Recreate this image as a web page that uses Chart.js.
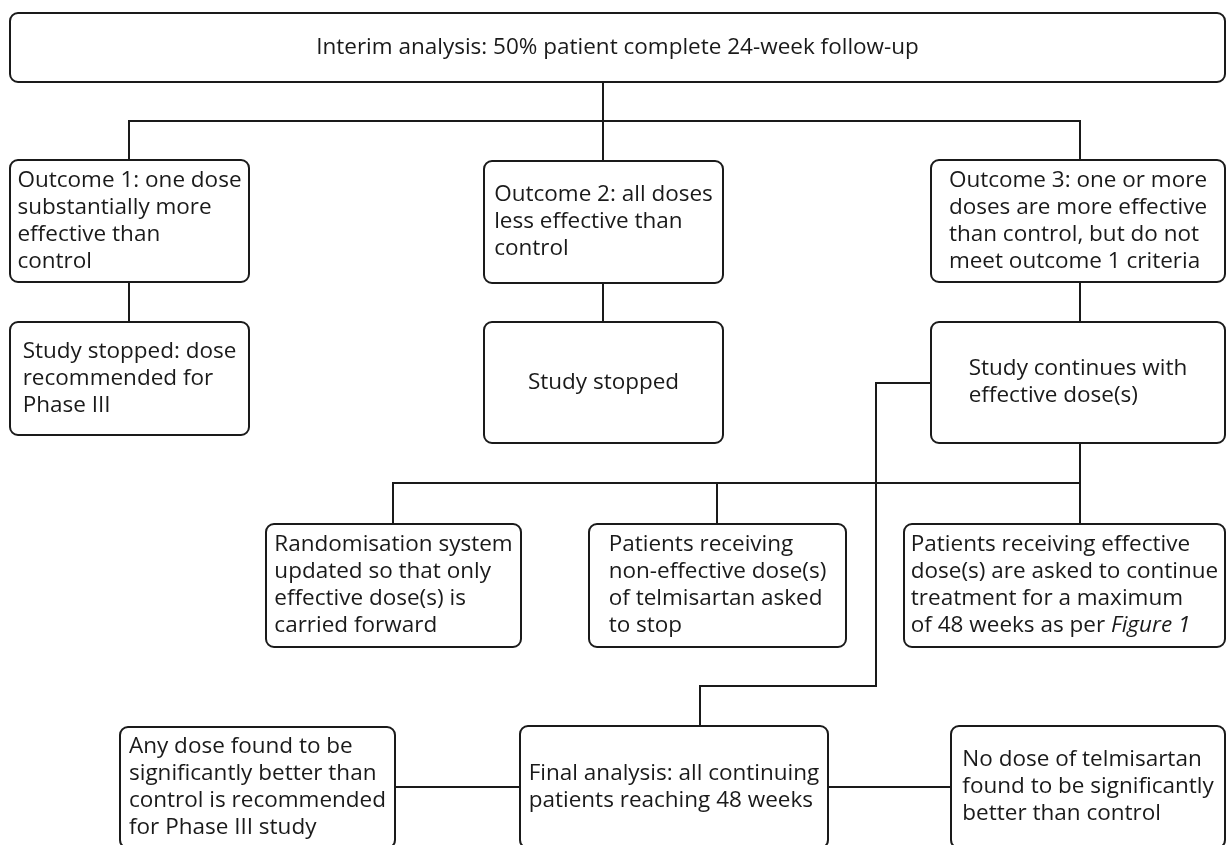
<!DOCTYPE html>
<html>
<head>
<meta charset="utf-8">
<script src="https://cdn.jsdelivr.net/npm/chart.js@4.4.0/dist/chart.umd.min.js"></script>
<style>
  html, body { margin: 0; padding: 0; background: #ffffff; }
  #wrap { width: 1227px; height: 845px; }
</style>
</head>
<body>
<div id="wrap"><canvas id="c" width="1227" height="845"></canvas></div>
<script>
// ---- Flowchart nodes (text; lines separated by \n, *...* = italic) ----
const nodeText = [
  "Interim analysis: 50% patient complete 24-week follow-up",
  "Outcome 1: one dose\nsubstantially more\neffective than\ncontrol",
  "Outcome 2: all doses\nless effective than\ncontrol",
  "Outcome 3: one or more\ndoses are more effective\nthan control, but do not\nmeet outcome 1 criteria",
  "Study stopped: dose\nrecommended for\nPhase III",
  "Study stopped",
  "Study continues with\neffective dose(s)",
  "Randomisation system\nupdated so that only\neffective dose(s) is\ncarried forward",
  "Patients receiving\nnon-effective dose(s)\nof telmisartan asked\nto stop",
  "Patients receiving effective\ndose(s) are asked to continue\ntreatment for a maximum\nof 48 weeks as per *Figure 1*",
  "Any dose found to be\nsignificantly better than\ncontrol is recommended\nfor Phase III study",
  "Final analysis: all continuing\npatients reaching 48 weeks",
  "No dose of telmisartan\nfound to be significantly\nbetter than control"
];
// node extents in diagram units
const nodeLeft   = [10,   10,  484,  931,  10,  484,  931, 266, 589,  904, 120, 520,  951];
const nodeTop    = [13,  160,  161,  160, 322,  322,  322, 524, 524,  524, 727, 726,  726];
const nodeRight  = [1225, 249, 723, 1225, 249,  723, 1225, 521, 846, 1225, 395, 828, 1225];
const nodeBottom = [82,  282,  283,  282, 435,  443,  443, 647, 647,  647, 848, 848,  848];

// ---- Connectors (polylines in diagram units) ----
const connectors = [
  [[603, 82], [603, 161]],
  [[129, 160], [129, 121], [1080, 121], [1080, 160]],
  [[129, 282], [129, 322]],
  [[603, 283], [603, 322]],
  [[1080, 282], [1080, 322]],
  [[1080, 443], [1080, 524]],
  [[393, 524], [393, 483], [1080, 483]],
  [[717, 483], [717, 524]],
  [[931, 383], [876, 383], [876, 686], [700, 686], [700, 726]],
  [[395, 787], [520, 787]],
  [[828, 787], [951, 787]]
];

const INK = '#1a1a1a';
const FONT_FAMILY = '"Open Sans", "Noto Sans", sans-serif';
const FONT_SIZE = 22.5;
const LINE_H = 27;

const datasets = connectors.map(pts => ({
  type: 'line',
  data: pts.map(p => ({ x: p[0], y: p[1] })),
  borderColor: INK,
  borderWidth: 2,
  pointRadius: 0,
  fill: false,
  tension: 0,
  clip: false
}));

function parseSegments(line) {
  const parts = line.split('*');
  return parts.map((t, i) => ({ text: t, italic: i % 2 === 1 })).filter(s => s.text.length);
}

const boxPlugin = {
  id: 'flowBoxes',
  afterDatasetsDraw(chart) {
    const ctx = chart.ctx;
    const xs = chart.scales.x, ys = chart.scales.y;
    ctx.save();
    for (let i = 0; i < nodeText.length; i++) {
      const x0 = xs.getPixelForValue(nodeLeft[i]);
      const x1 = xs.getPixelForValue(nodeRight[i]);
      const y0 = ys.getPixelForValue(nodeTop[i]);
      const y1 = ys.getPixelForValue(nodeBottom[i]);
      ctx.beginPath();
      ctx.roundRect(x0, y0, x1 - x0, y1 - y0, 8);
      ctx.fillStyle = '#ffffff';
      ctx.fill();
      ctx.lineWidth = 2;
      ctx.strokeStyle = INK;
      ctx.stroke();

      const lines = nodeText[i].split('\n').map(parseSegments);
      const widths = lines.map(segs => segs.reduce((w, s) => {
        ctx.font = (s.italic ? 'italic ' : '') + FONT_SIZE + 'px ' + FONT_FAMILY;
        return w + ctx.measureText(s.text).width;
      }, 0));
      const maxW = Math.max(...widths);
      const cx = (x0 + x1) / 2, cy = (y0 + y1) / 2;
      const left = cx - maxW / 2;
      const startY = cy - (lines.length - 1) * LINE_H / 2;
      ctx.fillStyle = INK;
      ctx.textBaseline = 'middle';
      ctx.textAlign = 'left';
      lines.forEach((segs, li) => {
        let x = left;
        segs.forEach(s => {
          ctx.font = (s.italic ? 'italic ' : '') + FONT_SIZE + 'px ' + FONT_FAMILY;
          ctx.fillText(s.text, x, startY + li * LINE_H);
          x += ctx.measureText(s.text).width;
        });
      });
    }
    ctx.restore();
  }
};

new Chart(document.getElementById('c'), {
  type: 'scatter',
  data: { datasets },
  options: {
    responsive: false,
    animation: false,
    events: [],
    layout: { padding: 0 },
    plugins: { legend: { display: false }, tooltip: { enabled: false } },
    scales: {
      x: { type: 'linear', min: 0, max: 1227, display: false },
      y: { type: 'linear', min: 0, max: 845, reverse: true, display: false }
    }
  },
  plugins: [boxPlugin]
});
</script>
</body>
</html>
